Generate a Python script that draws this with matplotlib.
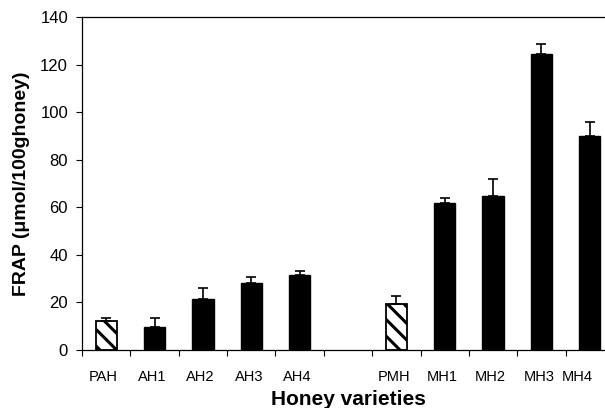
import numpy as np
import matplotlib
matplotlib.use("Agg")
import matplotlib.pyplot as plt
import matplotlib.transforms as mtransforms

categories = ["PAH", "AH1", "AH2", "AH3", "AH4", "", "PMH", "MH1", "MH2", "MH3", "MH4"]
frap = [12.0, 9.5, 21.6, 28.3, 31.5, np.nan, 19.2, 61.9, 64.6, 124.6, 90.0]
err = [1.5, 4.0, 4.5, 2.5, 1.8, np.nan, 3.5, 2.0, 7.3, 4.2, 5.7]
hatched = ["PAH", "PMH"]

plt.rcParams['font.family'] = ['Liberation Sans', 'DejaVu Sans']
plt.rcParams['hatch.linewidth'] = 2.2

fig = plt.figure(figsize=(6.05, 4.08), dpi=100)
ax = fig.add_axes([82/605, 1-350/408, (614-82)/605, (350-17)/408])

x = np.arange(len(categories))
for i, (c, v, e) in enumerate(zip(categories, frap, err)):
    if not c or np.isnan(v):
        continue
    if c in hatched:
        ax.bar(i, v, width=0.44, facecolor='white', edgecolor='black', hatch='\\\\', linewidth=1.3, zorder=2)
    else:
        ax.bar(i, v, width=0.44, facecolor='black', edgecolor='black', linewidth=1.0, zorder=2)
    ax.errorbar(i, v, yerr=[[0], [e]], fmt='none', ecolor='black', elinewidth=1.2, capsize=3.6, capthick=1.2, zorder=3)

ax.set_xlim(-0.5, len(categories) - 0.5)
ax.set_ylim(0, 140)
ax.set_yticks(np.arange(0, 141, 20))
ax.set_xticks(np.arange(-0.5, len(categories), 1.0))
ax.set_xticklabels([])
ax.set_xticks(x, minor=True)
labels = ax.set_xticklabels(categories, minor=True)
ax.tick_params(axis='x', which='minor', length=0, pad=14.5, labelsize=10.5)
ax.tick_params(axis='x', which='major', length=4, width=0.8, direction='out')
ax.tick_params(axis='y', length=4, width=0.8, direction='out', labelsize=12, pad=6)

# labels sit slightly left of centre; the last one is pulled inside the picture
for k, lab in enumerate(ax.get_xticklabels(minor=True)):
    dx = -13 if k == len(categories) - 1 else -2.5
    lab.set_transform(lab.get_transform() + mtransforms.ScaledTranslation(dx / 100, 0, fig.dpi_scale_trans))

for s in ax.spines.values():
    s.set_linewidth(0.9)
ax.spines['right'].set_visible(False)

ax.set_xlabel("Honey varieties", fontsize=15, fontweight='bold')
ax.set_ylabel("FRAP (μmol/100ghoney)", fontsize=14, fontweight='bold')
ax.xaxis.set_label_coords(0.5, (350 - 390) / 333)
ax.yaxis.set_label_coords((30 - 82) / 532, 0.5)

fig.savefig("out.png", dpi=100)
